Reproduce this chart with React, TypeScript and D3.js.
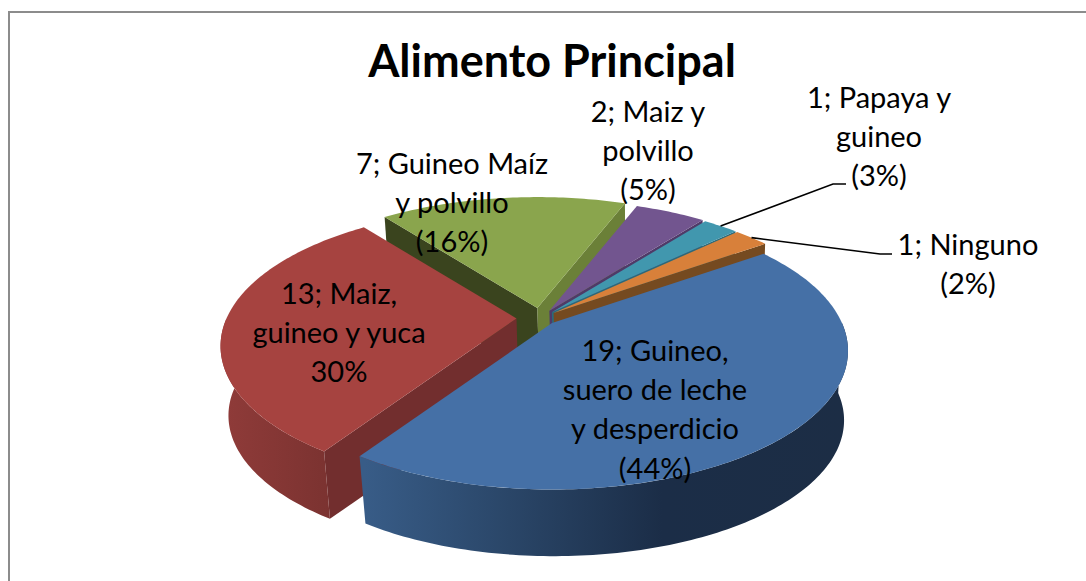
import React from 'react';
import * as d3 from 'd3';

const categories = ['Guineo, suero de leche y desperdicio', 'Maiz, guineo y yuca', 'Guineo Maíz y polvillo', 'Maiz y polvillo', 'Papaya y guineo', 'Ninguno'];
const values = [19, 13, 7, 2, 1, 1];
const explosion = [16, 24, 22, 18, 17, 17];
const topColors = ['#4570a6', '#a64340', '#8aa54d', '#72558f', '#4197ae', '#d8803a'];
const sideColors = ['#1c2d45', '#722e2e', '#3a441e', '#4f3a68', '#2b6a7a', '#754a20'];
const endWallColors = ['#1c2d45', '#722e2e', '#6b8038', '#4f3a68', '#2b6a7a', '#754a20'];
const paintOrder = [2, 3, 4, 5, 1, 0];

const labelLines = [
    ['19; Guineo,', 'suero de leche', 'y desperdicio', '(44%)'],
    ['13; Maiz,', 'guineo y yuca', '30%'],
    ['7; Guineo Maíz', 'y polvillo', '(16%)'],
    ['2; Maiz y', 'polvillo', '(5%)'],
    ['1; Papaya y', 'guineo', '(3%)'],
    ['1; Ninguno', '(2%)'],
];
const labelPos = [[655, 361], [339, 304], [452, 174], [648, 122], [879, 108], [968, 255]];

const width = 1086;
const height = 581;
const cx = 540.5;
const cy = 318;
const radius = 290;
const tilt = 0.459;
const persp = 0.2;
const depth = 70;
const depthScale = 0.98;
const depthShift = 2;
const rad = Math.PI / 180;

const pie = d3.pie<number>().sort(null)
    .startAngle(54.5 * rad)
    .endAngle(414.5 * rad);
const arcs = pie(values);

// point on the rim of the pie seen in perspective, relative to the apex
const rim = (a: number, bottom = false): [number, number] => {
    const d = 1 + persp * Math.cos(a);
    const x = radius * Math.sin(a) / d;
    const y = -radius * tilt * Math.cos(a) / d;
    return bottom ? [x * depthScale + depthShift, y * depthScale + depth] : [x, y];
};

const sample = (a0: number, a1: number) => {
    const n = Math.max(2, Math.ceil(Math.abs(a1 - a0) / rad));
    return d3.range(n + 1).map(i => a0 + (a1 - a0) * i / n);
};

const line = d3.line<[number, number]>().x(d => d[0]).y(d => d[1]);
const closed = (pts: [number, number][]) => line(pts) + 'Z';

function Slice({i}: {i: number}) {
    const arc = arcs[i];
    const mid = (arc.startAngle + arc.endAngle) / 2;
    const ox = cx + explosion[i] * Math.sin(mid);
    const oy = cy - explosion[i] * tilt * Math.cos(mid);

    const apex: [number, number] = [0, 0];
    const apexLow: [number, number] = [depthShift, depth];
    const wall = (a: number) => closed([apex, rim(a), rim(a, true), apexLow]);

    // outer wall only on the half facing the viewer
    const from = Math.max(arc.startAngle, 90 * rad);
    const to = Math.min(arc.endAngle, 270 * rad);
    const outer = from < to
        ? closed([...sample(from, to).map(a => rim(a)), ...sample(to, from).map(a => rim(a, true))])
        : null;

    return (
        <g transform={`translate(${ox},${oy})`}>
            {Math.sin(arc.startAngle) < 0 && <path d={wall(arc.startAngle)} fill={sideColors[i]} />}
            {Math.sin(arc.endAngle) > 0 && <path d={wall(arc.endAngle)} fill={endWallColors[i]} />}
            {outer && <path d={outer} fill={`url(#wall-${i})`} />}
            <path d={closed([apex, ...sample(arc.startAngle, arc.endAngle).map(a => rim(a))])} fill={topColors[i]} />
        </g>
    );
}

// leader from the middle of the slice rim out to its label
function Leader({i, elbow}: {i: number; elbow: [number, number, number]}) {
    const arc = arcs[i];
    const mid = (arc.startAngle + arc.endAngle) / 2;
    const p = rim(mid);
    const x = cx + explosion[i] * Math.sin(mid) + p[0];
    const y = cy - explosion[i] * tilt * Math.cos(mid) + p[1];
    const pts: [number, number][] = [[x, y], [elbow[0], elbow[2]], [elbow[1], elbow[2]]];
    return <path d={line(pts) || ''} fill="none" stroke="#000" strokeWidth={1.6} />;
}

export default function App() {
    return (
        <svg width={width} height={height} viewBox={`0 0 ${width} ${height}`}
             style={{position: 'absolute', left: 0, top: 0, display: 'block', background: '#fff'}}>
            <defs>
                {/* gradients are in the slice's own coordinates, apex at 0 */}
                <linearGradient id="wall-0" gradientUnits="userSpaceOnUse" x1={-187} x2={293} y1={0} y2={0}>
                    <stop offset="0" stopColor="#385c87" />
                    <stop offset="0.3" stopColor="#2a4668" />
                    <stop offset="0.62" stopColor="#1b2d47" />
                    <stop offset="1" stopColor="#1c2d45" />
                </linearGradient>
                <linearGradient id="wall-1" gradientUnits="userSpaceOnUse" x1={-292} x2={-182} y1={0} y2={0}>
                    <stop offset="0" stopColor="#8f3b39" />
                    <stop offset="1" stopColor="#7a3230" />
                </linearGradient>
            </defs>

            <path d={`M9,581V12H${width}`} fill="none" stroke="#8c8c8c" strokeWidth={2} />

            {paintOrder.map(i => <Slice key={categories[i]} i={i} />)}

            <Leader i={4} elbow={[833, 846, 184]} />
            <Leader i={5} elbow={[880, 892, 254]} />

            <text x={552} y={77} textAnchor="middle" fontFamily="Lato" fontWeight={700} fontSize={45}
                  fill="#000">Alimento Principal</text>

            {labelLines.map((lines, i) => (
                <text key={categories[i]} fontFamily="Lato" fontSize={29} fill="#000" textAnchor="middle">
                    {lines.map((t, j) => (
                        <tspan key={j} x={labelPos[i][0]} y={labelPos[i][1] + j * 39.2}>{t}</tspan>
                    ))}
                </text>
            ))}
        </svg>
    );
}
